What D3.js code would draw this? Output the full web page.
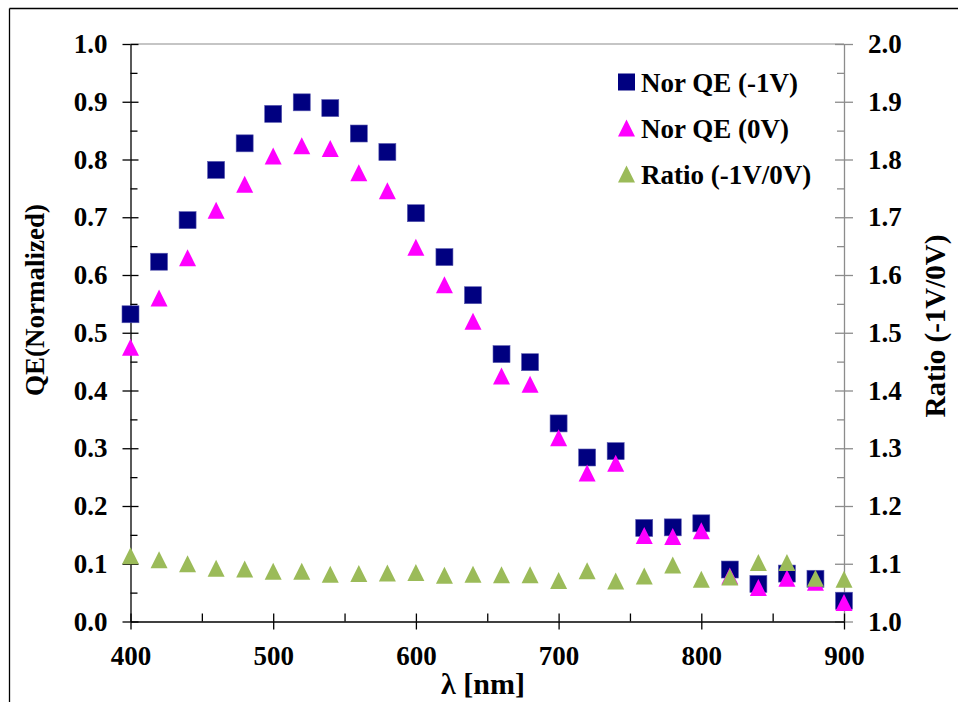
<!DOCTYPE html>
<html>
<head>
<meta charset="utf-8">
<script src="https://cdn.jsdelivr.net/npm/d3@7"></script>
<style>
  html, body { margin: 0; padding: 0; background: #fff; }
  svg text { font-family: "Liberation Serif", "Times New Roman", serif; font-weight: bold; }
</style>
</head>
<body>
<svg id="chart" width="958" height="702"></svg>
<script>
// ---- data ----
const wavelengths = [400,420,440,460,480,500,520,540,560,580,600,620,640,660,680,700,720,740,760,780,800,820,840,860,880,900];
const qeMinus1V = [0.532,0.623,0.695,0.782,0.828,0.879,0.899,0.889,0.845,0.813,0.707,0.631,0.565,0.463,0.449,0.343,0.284,0.295,0.162,0.163,0.170,0.090,0.065,0.083,0.074,0.036];
const qe0V      = [0.475,0.560,0.630,0.712,0.757,0.806,0.824,0.819,0.777,0.746,0.648,0.583,0.520,0.425,0.411,0.318,0.257,0.274,0.149,0.147,0.157,0.079,0.059,0.075,0.068,0.033];
const ratio     = [1.114,1.107,1.100,1.092,1.091,1.087,1.087,1.082,1.083,1.084,1.085,1.080,1.082,1.081,1.081,1.071,1.088,1.070,1.079,1.098,1.073,1.077,1.102,1.102,1.075,1.073];

const seriesNames = ["Nor QE (-1V)", "Nor QE (0V)", "Ratio (-1V/0V)"];
const xTicks = [400,500,600,700,800,900];
const xMinorTicks = [450,550,650,750,850];
const yTicks = [0,0.1,0.2,0.3,0.4,0.5,0.6,0.7,0.8,0.9,1.0];
const yMinorTicks = [0.05,0.15,0.25,0.35,0.45,0.55,0.65,0.75,0.85,0.95];
const y2Ticks = [1.0,1.1,1.2,1.3,1.4,1.5,1.6,1.7,1.8,1.9,2.0];
const y2MinorTicks = [1.05,1.15,1.25,1.35,1.45,1.55,1.65,1.75,1.85,1.95];
const xTitle = "λ [nm]";
const yTitle = "QE(Normalized)";
const y2Title = "Ratio (-1V/0V)";

// ---- layout ----
const L = 130.5, R = 844, T = 44, B = 621.5;
const FS = 27;
const FONT = '"Liberation Serif","Times New Roman",serif';
const svg = d3.select("#chart");

// outer frame (top & left edges visible)
svg.append("line").attr("x1", 9.5).attr("x2", 958).attr("y1", 8.5).attr("y2", 8.5).attr("stroke", "#000").attr("stroke-width", 1.3);
svg.append("line").attr("x1", 9.5).attr("x2", 9.5).attr("y1", 8.5).attr("y2", 702).attr("stroke", "#000").attr("stroke-width", 1.3);

const x = d3.scaleLinear().domain([400, 900]).range([L, R]);
const y = d3.scaleLinear().domain([0, 1]).range([B, T]);
const y2 = d3.scaleLinear().domain([1, 2]).range([B, T]);

const fmt = d3.format(".1f");

// top border of plot area (gray)
svg.append("line").attr("x1", L).attr("x2", R).attr("y1", T).attr("y2", T).attr("stroke", "#8c8c8c").attr("stroke-width", 1.2);

function styleAxis(g, color) {
  g.attr("font-family", null).attr("font-size", null);
  g.selectAll("path.domain").attr("stroke", color).attr("stroke-width", 1.3);
  g.selectAll(".tick line").attr("stroke", color).attr("stroke-width", 1.3);
  g.selectAll(".tick text").attr("fill", "#000").style("font-size", FS + "px").style("font-family", FONT).style("font-weight", "bold");
}

// right (secondary) axis - gray
const gR = svg.append("g").attr("transform", `translate(${R},0)`)
  .call(d3.axisRight(y2).tickValues(y2Ticks).tickFormat(fmt).tickSizeInner(9).tickSizeOuter(0).tickPadding(15));
styleAxis(gR, "#8c8c8c");
const gRin = svg.append("g").attr("transform", `translate(${R},0)`)
  .call(d3.axisLeft(y2).tickValues(y2Ticks).tickFormat("").tickSizeInner(9).tickSizeOuter(0));
styleAxis(gRin, "#8c8c8c"); gRin.select("path.domain").remove();
const gRmin = svg.append("g").attr("transform", `translate(${R},0)`)
  .call(d3.axisLeft(y2).tickValues(y2MinorTicks).tickFormat("").tickSizeInner(7).tickSizeOuter(0));
styleAxis(gRmin, "#8c8c8c"); gRmin.select("path.domain").remove();

// left axis - black
const gL = svg.append("g").attr("transform", `translate(${L},0)`)
  .call(d3.axisLeft(y).tickValues(yTicks).tickFormat(fmt).tickSizeInner(8).tickSizeOuter(0).tickPadding(15));
styleAxis(gL, "#000");
const gLin = svg.append("g").attr("transform", `translate(${L},0)`)
  .call(d3.axisRight(y).tickValues(yTicks).tickFormat("").tickSizeInner(8).tickSizeOuter(0));
styleAxis(gLin, "#000"); gLin.select("path.domain").remove();
const gLmin = svg.append("g").attr("transform", `translate(${L},0)`)
  .call(d3.axisRight(y).tickValues(yMinorTicks).tickFormat("").tickSizeInner(7).tickSizeOuter(0));
styleAxis(gLmin, "#000"); gLmin.select("path.domain").remove();

// bottom axis - black
const gB = svg.append("g").attr("transform", `translate(0,${B})`)
  .call(d3.axisBottom(x).tickValues(xTicks).tickFormat(d3.format("d")).tickSizeInner(8).tickSizeOuter(0).tickPadding(16));
styleAxis(gB, "#000");
const gBin = svg.append("g").attr("transform", `translate(0,${B})`)
  .call(d3.axisTop(x).tickValues(xTicks).tickFormat("").tickSizeInner(8).tickSizeOuter(0));
styleAxis(gBin, "#000"); gBin.select("path.domain").remove();
const gBmin = svg.append("g").attr("transform", `translate(0,${B})`)
  .call(d3.axisTop(x).tickValues(xMinorTicks).tickFormat("").tickSizeInner(8).tickSizeOuter(0));
styleAxis(gBmin, "#000"); gBmin.select("path.domain").remove();

// markers
const sq = 17, tri = 17;
const triPath = `M0,${-tri/2} L${tri/2},${tri/2} L${-tri/2},${tri/2} Z`;

svg.append("g").selectAll("rect").data(wavelengths).join("rect")
  .attr("x", (d) => x(d) - sq/2).attr("y", (d, i) => y(qeMinus1V[i]) - sq/2)
  .attr("width", sq).attr("height", sq).attr("fill", "#000080").attr("stroke", "#5a5ab0").attr("stroke-width", 0.6);

svg.append("g").selectAll("path").data(wavelengths).join("path")
  .attr("d", triPath).attr("transform", (d, i) => `translate(${x(d)},${y(qe0V[i])})`)
  .attr("fill", "#FF00FF");

svg.append("g").selectAll("path").data(wavelengths).join("path")
  .attr("d", triPath).attr("transform", (d, i) => `translate(${x(d)},${y2(ratio[i])})`)
  .attr("fill", "#9BBB59");

// legend
const legendColors = ["#000080", "#FF00FF", "#9BBB59"];
const legendShapes = ["square", "tri", "tri"];
const lg = svg.append("g");
seriesNames.forEach((name, i) => {
  const cy = 82 + i * 46;
  if (legendShapes[i] === "square") {
    lg.append("rect").attr("x", 618).attr("y", cy - 8.5).attr("width", 17).attr("height", 17).attr("fill", legendColors[i]);
  } else {
    lg.append("path").attr("d", triPath).attr("transform", `translate(626.5,${cy})`).attr("fill", legendColors[i]);
  }
  lg.append("text").attr("x", 641).attr("y", cy + 10).style("font-size", FS + "px").style("font-family", FONT).attr("fill", "#000").text(name);
});

// axis titles
svg.append("text").attr("x", 483).attr("y", 694).attr("text-anchor", "middle").style("font-size", "30px").style("font-family", FONT).text(xTitle);
svg.append("text").attr("transform", "translate(44,300) rotate(-90)").attr("text-anchor", "middle").style("font-size", FS + "px").style("font-family", FONT).text(yTitle);
svg.append("text").attr("transform", "translate(945,326) rotate(-90)").attr("text-anchor", "middle").style("font-size", "29px").style("font-family", FONT).text(y2Title);
</script>
</body>
</html>
